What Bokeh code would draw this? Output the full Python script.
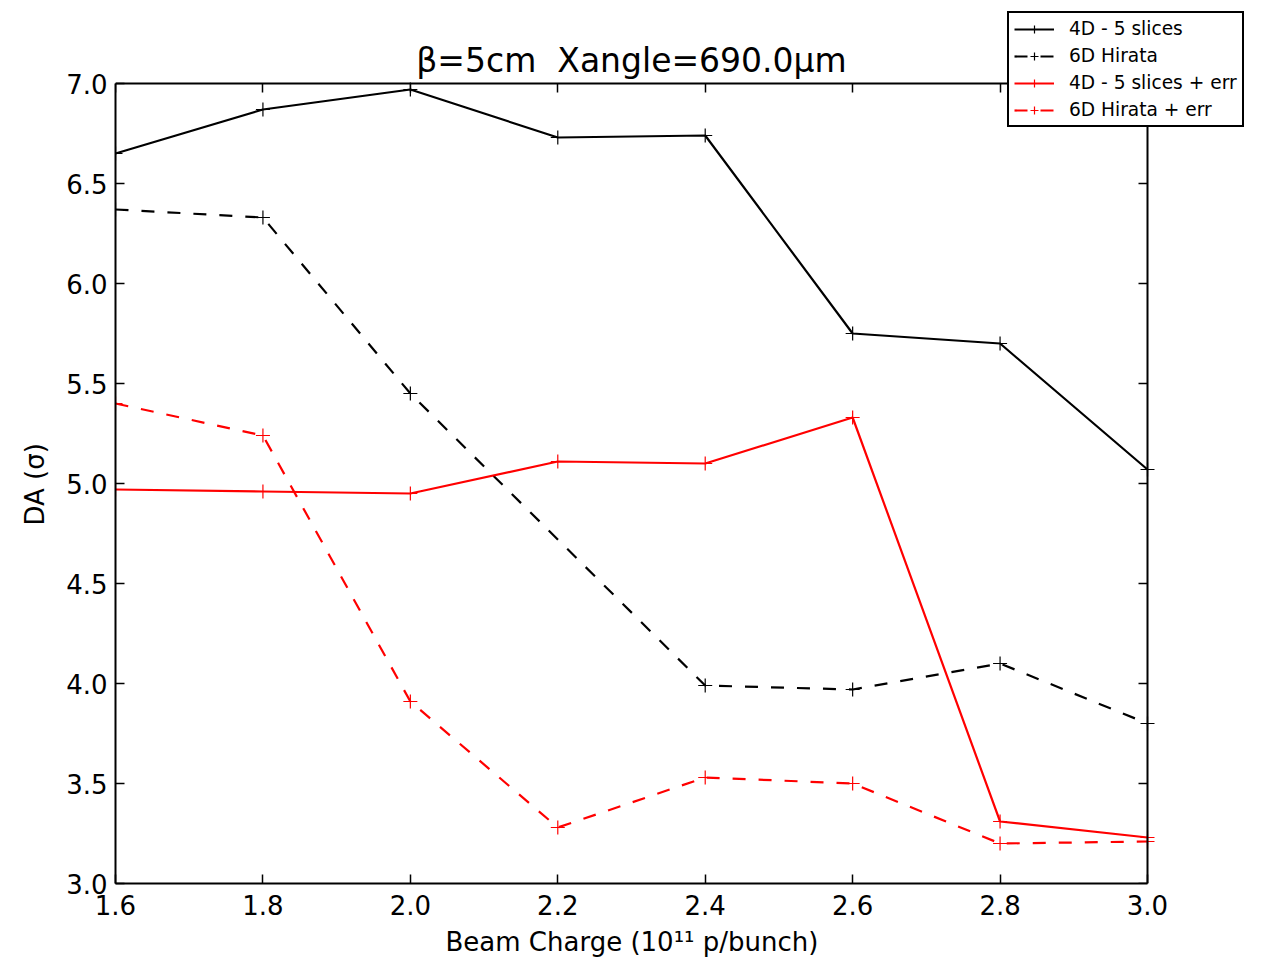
from bokeh.plotting import figure
from bokeh.models import Range1d, FixedTicker, PrintfTickFormatter, LinearAxis, Legend, LegendItem, Label, Title
from bokeh.embed import file_html
from bokeh.resources import INLINE

# ---- data ----
charge = [1.6, 1.8, 2.0, 2.2, 2.4, 2.6, 2.8, 3.0]
charge_6d = [1.6, 1.8, 2.0, 2.4, 2.6, 2.8, 3.0]
da_4d = [6.65, 6.87, 6.97, 6.73, 6.74, 5.75, 5.70, 5.07]
da_6d = [6.37, 6.33, 5.45, 3.99, 3.97, 4.10, 3.80]
da_4d_err = [4.97, 4.96, 4.95, 5.11, 5.10, 5.33, 3.31, 3.23]
da_6d_err = [5.40, 5.24, 3.91, 3.28, 3.53, 3.50, 3.20, 3.21]
x_ticks = [1.6, 1.8, 2.0, 2.2, 2.4, 2.6, 2.8, 3.0]
y_ticks = [3.0, 3.5, 4.0, 4.5, 5.0, 5.5, 6.0, 6.5, 7.0]
series_labels = ["4D - 5 slices", "6D Hirata", "4D - 5 slices + err", "6D Hirata + err"]
title_text = "β=5cm\u00a0\u00a0Xangle=690.0μm"
x_label = "Beam Charge (10¹¹ p/bunch)"
y_label = "DA (σ)"

FONT = "DejaVu Sans"

# axes box (1.6..3.0 x 3.0..7.0) is 1032 x 800 px; the frame is extended
# to the right and top so that the legend (which overlaps the box) is not clipped
X0, X1 = x_ticks[0], x_ticks[-1]
Y0, Y1 = y_ticks[0], y_ticks[-1]
BOX_W, BOX_H = 1032, 800
EXTRA_R, EXTRA_T = 98, 83
px_x = BOX_W / (X1 - X0)
px_y = BOX_H / (Y1 - Y0)

p = figure(frame_width=BOX_W + EXTRA_R, frame_height=BOX_H + EXTRA_T,
           x_range=Range1d(X0, X1 + EXTRA_R / px_x),
           y_range=Range1d(Y0, Y1 + EXTRA_T / px_y),
           output_backend="svg", toolbar_location=None,
           min_border_left=115, min_border_right=4,
           min_border_top=0, min_border_bottom=0)

p.background_fill_color = "white"
p.border_fill_color = "white"
p.xgrid.visible = False
p.ygrid.visible = False
p.outline_line_color = None


def style_axis(ax, labels=True):
    ax.axis_line_color = "black"
    ax.axis_line_width = 2
    ax.major_tick_in = 9
    ax.major_tick_out = 0
    ax.major_tick_line_color = "black"
    ax.major_tick_line_width = 1.5
    ax.minor_tick_line_color = None
    ax.major_label_text_font = FONT
    ax.major_label_text_color = "black"
    if labels:
        ax.major_label_text_font_size = "26px"
        ax.major_label_standoff = 11
    else:
        ax.major_label_text_font_size = "1px"
        ax.major_label_text_color = None
        ax.major_label_standoff = 0


xa = p.xaxis[0]
ya = p.yaxis[0]
xa.ticker = FixedTicker(ticks=x_ticks)
ya.ticker = FixedTicker(ticks=y_ticks)
xa.formatter = PrintfTickFormatter(format="%.1f")
ya.formatter = PrintfTickFormatter(format="%.1f")
xa.bounds = (X0, X1)
ya.bounds = (Y0, Y1)
style_axis(xa)
style_axis(ya)
ya.major_label_standoff = 8

top = LinearAxis(ticker=FixedTicker(ticks=x_ticks), fixed_location=Y1, bounds=(X0, X1))
right = LinearAxis(ticker=FixedTicker(ticks=y_ticks), fixed_location=X1, bounds=(Y0, Y1))
style_axis(top, labels=False)
style_axis(right, labels=False)
p.add_layout(top, "above")
p.add_layout(right, "right")

# axis labels, centred on the axes box (not on the extended frame)
xlab = Title(text=x_label, align="left", offset=330, standoff=14,
             text_font=FONT, text_font_size="26px", text_font_style="normal",
             text_color="black")
p.add_layout(xlab, "below")
ylab = Title(text=y_label, align="left", offset=358, standoff=28,
             text_font=FONT, text_font_size="26px", text_font_style="normal",
             text_color="black")
p.add_layout(ylab, "left")

# title (drawn above the axes box, inside the extended frame)
title = Label(x=(X0 + X1) / 2, y=BOX_H + 23, x_units="data", y_units="screen",
              text=title_text, text_align="center", text_baseline="middle",
              text_font=FONT, text_font_size="33px", text_color="black")
p.add_layout(title)

LW = 2.2
MS = 14

r1 = p.line(charge, da_4d, line_color="black", line_width=LW)
m1 = p.scatter(charge, da_4d, marker="cross", size=MS, line_color="black", line_width=1.2)
r2 = p.line(charge_6d, da_6d, line_color="black", line_width=LW, line_dash="13 13")
m2 = p.scatter(charge_6d, da_6d, marker="cross", size=MS, line_color="black", line_width=1.2)
r3 = p.line(charge, da_4d_err, line_color="red", line_width=LW)
m3 = p.scatter(charge, da_4d_err, marker="cross", size=MS, line_color="red", line_width=1.2)
r4 = p.line(charge, da_6d_err, line_color="red", line_width=LW, line_dash="13 13")
m4 = p.scatter(charge, da_6d_err, marker="cross", size=MS, line_color="red", line_width=1.2)

legend = Legend(items=[
    LegendItem(label=series_labels[0], renderers=[r1, m1]),
    LegendItem(label=series_labels[1], renderers=[r2, m2]),
    LegendItem(label=series_labels[2], renderers=[r3, m3]),
    LegendItem(label=series_labels[3], renderers=[r4, m4]),
], location=(892, 756))
legend.label_text_font = FONT
legend.label_text_font_size = "18.6px"
legend.label_text_color = "black"
legend.border_line_color = "black"
legend.border_line_alpha = 1.0
legend.border_line_width = 2
legend.background_fill_color = "white"
legend.background_fill_alpha = 1.0
legend.glyph_width = 40
legend.glyph_height = 20
legend.label_height = 20
legend.label_standoff = 15
legend.spacing = 6
legend.padding = 5
legend.margin = 0
p.add_layout(legend, "center")

open("out.html", "w").write(file_html(p, INLINE))
